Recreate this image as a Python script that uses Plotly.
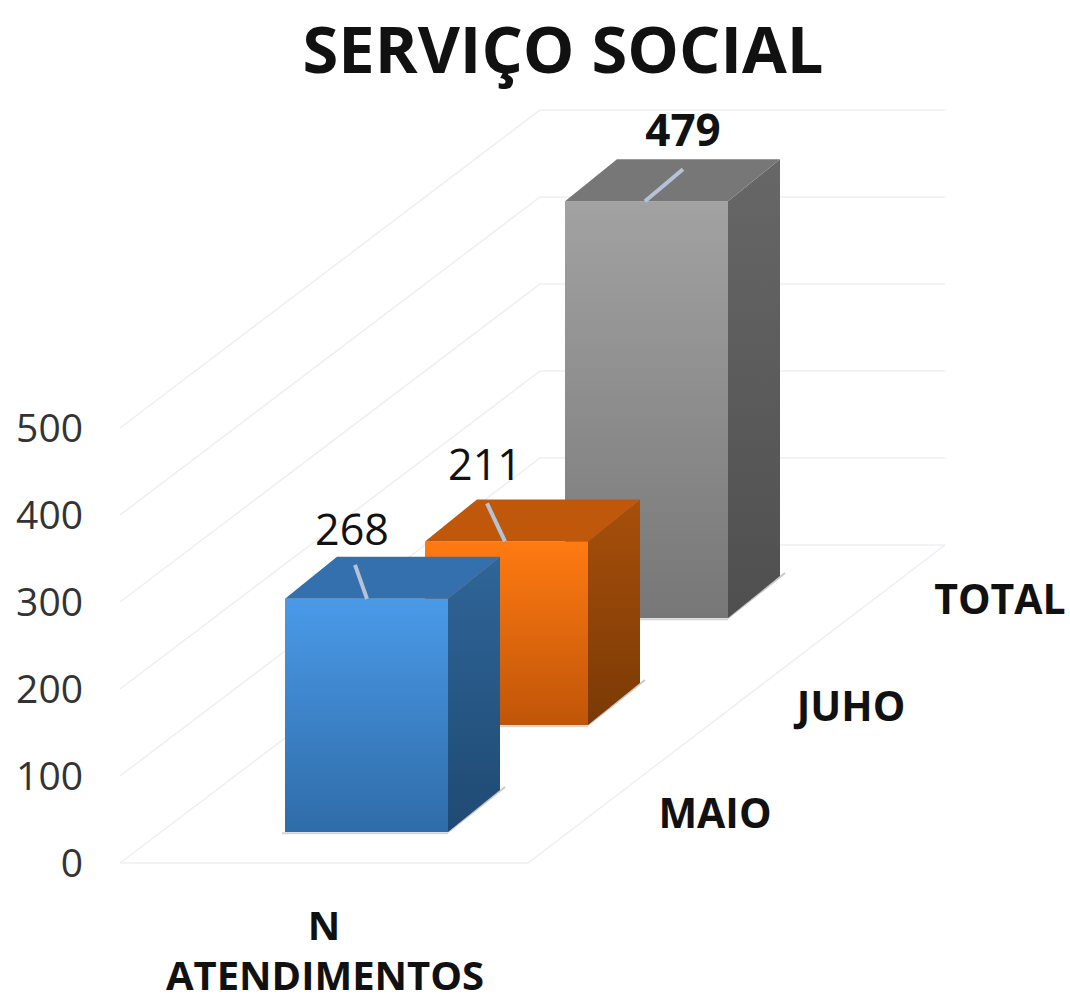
import plotly.graph_objects as go

TITLE = "SERVIÇO SOCIAL"
CATEGORIES = ["MAIO", "JUHO", "TOTAL"]
VALUES = [268, 211, 479]
GROUP = ["N", "ATENDIMENTOS"]
Y_TICKS = [0, 100, 200, 300, 400, 500]
LABEL_BOLD = [False, False, True]

FRONT = [("#2f6ca8", "#4a9ae8"), ("#c05508", "#ff7a12"), ("#777777", "#a2a2a2")]
SIDE = [("#1f4a73", "#2f6598"), ("#7a3a05", "#a84f0b"), ("#4f4f4f", "#676767")]
TOP = ["#3470ad", "#c0580c", "#777777"]
GRID = "#eeeef5"
TEXT = "#111111"
FONT = "Open Sans"

W, H = 1070, 1008
UNIT = 0.87    # pixels per value unit
Y0 = 863       # pixel row of value 0 on the front of the floor


def val(pixel_row):
    """Value-axis coordinate of a pixel row."""
    return (Y0 - pixel_row) / UNIT


fig = go.Figure()


def poly(xs, ys, c0, c1=None):
    kw = dict(x=xs + xs[:1], y=ys + ys[:1], mode="lines", fill="toself",
              line=dict(width=0), hoverinfo="skip", showlegend=False)
    if c1:
        kw["fillgradient"] = dict(type="vertical",
                                  colorscale=[[0, c0], [1, c1]])
    else:
        kw["fillcolor"] = c0
    fig.add_trace(go.Scatter(**kw))


def line(xs, ys, color, width=1.5):
    fig.add_trace(go.Scatter(x=xs, y=ys, mode="lines",
                             line=dict(color=color, width=width),
                             hoverinfo="skip", showlegend=False))


def text(x, y, s, size, bold=False, color=TEXT):
    fig.add_trace(go.Scatter(x=[x], y=[y], mode="text", text=[s],
                             textposition="middle center",
                             textfont=dict(family=FONT, size=size, color=color,
                                           weight=700 if bold else 400),
                             hoverinfo="skip", showlegend=False))


# walls and floor
WALL_L, FLOOR_R, BACK_X, BACK_R = 120, 528, 540, 945
LIFT = val(Y0 - 318)
for t in Y_TICKS:
    line([WALL_L, BACK_X, BACK_R], [t, t + LIFT, t + LIFT], GRID)
line([WALL_L, FLOOR_R, BACK_R], [0, 0, LIFT], GRID)

# bars, back to front
BAR_W, DX, DY = 163, 52, 42
STEP_X, STEP_Y, BASE_X, BASE_Y = 140, 107, 285, 31
for i in reversed(range(len(VALUES))):
    v = VALUES[i]
    x = BASE_X + STEP_X * i
    b = val(Y0 - BASE_Y - STEP_Y * i)
    t = b + v
    d = DY / UNIT
    # floor shadow
    line([x + BAR_W, x + BAR_W + DX + 5], [b, b + d + 3 / UNIT], "#c9c9c9", 2)
    line([x - 3, x + BAR_W], [b - 1.5, b - 1.5], "#d5d5d5", 2)
    poly([x + BAR_W, x + BAR_W + DX, x + BAR_W + DX, x + BAR_W],
         [b, b + d, t + d, t], *SIDE[i])
    poly([x, x + BAR_W, x + BAR_W, x], [b, b, t, t], *FRONT[i])
    poly([x, x + DX, x + BAR_W + DX, x + BAR_W], [t, t + d, t + d, t], TOP[i])

# leader lines and value labels
LEADER_ENDS = [((355, 34), (367, 0)), ((487, 38), (505, 0)), ((683, 32), (645, 0))]
TOP_ROWS = [Y0 - BASE_Y - STEP_Y * i - VALUES[i] * UNIT for i in range(3)]
for i, v in enumerate(VALUES):
    x0, r0 = LEADER_ENDS[i][0]
    x1, r1 = LEADER_ENDS[i][1]
    line([x0, x1], [val(TOP_ROWS[i] - r0), val(TOP_ROWS[i] - r1)], "#b4c3d6", 4)
LABEL_XY = [(352, 65), (485, 72), (683, 66)]
LABEL_SIZE = [43, 43, 44]
for i, v in enumerate(VALUES):
    lx, up = LABEL_XY[i]
    text(lx, val(TOP_ROWS[i] - up), str(v), LABEL_SIZE[i], LABEL_BOLD[i])

# category labels
CAT_XY = [(715, 818), (851, 711), (1000, 604)]
for (cx, cy), c in zip(CAT_XY, CATEGORIES):
    text(cx, val(cy), c, 41, True)
text(324, val(930), GROUP[0], 40, True)
text(325, val(980), GROUP[1], 40, True)

fig.update_layout(
    width=W, height=H, margin=dict(l=0, r=0, t=0, b=0),
    paper_bgcolor="white", plot_bgcolor="white", showlegend=False,
    title=dict(text=f"<b>{TITLE}</b>", x=563 / W, xanchor="center",
               y=1 - 50 / H, yanchor="middle",
               font=dict(family=FONT, size=65, color="#111111")),
    xaxis=dict(range=[0, W], visible=False, fixedrange=True),
    yaxis=dict(range=[val(H), val(0)], tickvals=Y_TICKS, showgrid=False,
               zeroline=False, showline=False, ticks="", anchor="free",
               position=83 / W, fixedrange=True,
               tickfont=dict(family=FONT, size=39, color="#333333")),
)
fig.write_html("out.html", config=dict(displayModeBar=False),
               post_script="document.body.style.margin='0';")
